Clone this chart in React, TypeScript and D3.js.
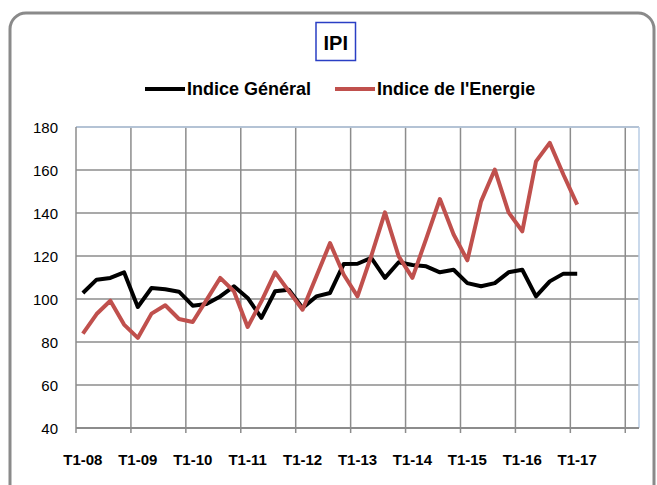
import * as d3 from "d3";

const width = 657;
const height = 485;
const marginLeft = 76;
const plotRight = 639;
const plotTop = 127;
const plotBottom = 428;

// quarters T1-08 .. T1-18 (41 slots, data runs to T1-17)
const years = ["08", "09", "10", "11", "12", "13", "14", "15", "16", "17", "18"];
const quarters = years.flatMap((y, i) =>
  i === years.length - 1 ? [`T1-${y}`] : [`T1-${y}`, `T2-${y}`, `T3-${y}`, `T4-${y}`]
);
const tickLabels = ["T1-08", "T1-09", "T1-10", "T1-11", "T1-12", "T1-13", "T1-14", "T1-15", "T1-16", "T1-17"];

const indiceGeneral = [
  102.8, 109, 109.8, 112.4, 96.3, 105.1, 104.5, 103.4, 96.9, 97.7,
  101.2, 105.9, 100.5, 91.2, 103.6, 104.3, 95.8, 101.2, 102.8, 116.3,
  116.4, 119.1, 109.8, 117.1, 115.8, 115.2, 112.4, 113.6, 107.4, 105.9,
  107.4, 112.4, 113.6, 101.2, 108.2, 111.8, 111.8,
];
const indiceEnergie = [
  83.9, 93, 99.2, 88.1, 81.9, 93.2, 97.1, 90.7, 89.3, 99.5,
  109.8, 103.6, 87, 98.9, 112.4, 103.6, 95, 110.5, 126, 111.3,
  101.2, 120, 140.3, 119.8, 109.8, 128, 146.5, 130, 118, 145.4,
  160.2, 140.3, 131.5, 164, 172.6, 157.8, 143.9,
];
const yTicks = [40, 60, 80, 100, 120, 140, 160, 180];

const series = [
  { name: "Indice Général", values: indiceGeneral, color: "#000000" },
  { name: "Indice de l'Energie", values: indiceEnergie, color: "#c0504d" },
];

const font = "'Liberation Sans', Arial, sans-serif";

export default function App() {
  const x = d3.scaleBand<string>().domain(quarters).range([marginLeft, plotRight]).padding(0);
  const y = d3.scaleLinear().domain([40, 180]).range([plotBottom, plotTop]);
  const bw = x.bandwidth();

  const line = d3
    .line<number>()
    .x((_, i) => (x(quarters[i]) as number) + bw / 2)
    .y((d) => y(d));

  const tickEdges = quarters.filter((_, i) => i % 4 === 0).map((q) => x(q) as number);

  return (
    <svg
      width={width}
      height={height}
      viewBox={`0 0 ${width} ${height}`}
      style={{ position: "absolute", left: 0, top: 0, background: "#fff" }}
    >
      <rect x={10} y={13} width={644} height={490} rx={16} fill="#fff" stroke="#8a8a8a" strokeWidth={3} />

      {/* title */}
      <rect x={316} y={22.5} width={39.5} height={38} fill="none" stroke="#2a3fc4" strokeWidth={1.5} />
      <text x={335.8} y={50} textAnchor="middle" fontFamily={font} fontWeight="bold" fontSize={20}>
        IPI
      </text>

      {/* legend */}
      <g fontFamily={font} fontWeight="bold" fontSize={18}>
        <line x1={145} x2={185} y1={89} y2={89} stroke={series[0].color} strokeWidth={4} />
        <text x={187} y={94.5}>{series[0].name}</text>
        <line x1={335} x2={375} y1={89} y2={89} stroke={series[1].color} strokeWidth={4} />
        <text x={377} y={94.5}>{series[1].name}</text>
      </g>

      {/* grid */}
      {yTicks.map((t) => (
        <line key={t} x1={marginLeft} x2={plotRight} y1={y(t)} y2={y(t)} stroke="#8c8c8c" strokeWidth={1.5} />
      ))}
      {tickEdges.slice(1).map((e) => (
        <line key={e} x1={e} x2={e} y1={plotTop} y2={plotBottom} stroke="#8c8c8c" strokeWidth={1.5} />
      ))}
      <line x1={marginLeft} x2={plotRight} y1={plotTop} y2={plotTop} stroke="#b9cde5" strokeWidth={1.5} />
      <line x1={plotRight} x2={plotRight} y1={plotTop} y2={plotBottom} stroke="#b9cde5" strokeWidth={1.5} />

      {/* axes */}
      <line x1={marginLeft} x2={marginLeft} y1={plotTop} y2={plotBottom} stroke="#8c8c8c" strokeWidth={1.5} />
      <line x1={marginLeft} x2={plotRight} y1={plotBottom} y2={plotBottom} stroke="#8c8c8c" strokeWidth={2} />
      {tickEdges.map((e) => (
        <line key={"t" + e} x1={e} x2={e} y1={plotBottom} y2={plotBottom + 5} stroke="#8c8c8c" strokeWidth={1.5} />
      ))}

      <g fontFamily={font} fontSize={15} textAnchor="end">
        {yTicks.map((t) => (
          <text key={t} x={58} y={y(t) + 5.5}>
            {t}
          </text>
        ))}
      </g>
      <g fontFamily={font} fontSize={15} fontWeight="bold" textAnchor="middle">
        {tickLabels.map((l) => (
          <text key={l} x={(x(l) as number) + bw / 2} y={465}>
            {l}
          </text>
        ))}
      </g>

      {/* series */}
      {series.map((s) => (
        <path
          key={s.name}
          d={line(s.values) as string}
          fill="none"
          stroke={s.color}
          strokeWidth={4}
          strokeLinejoin="round"
        />
      ))}
    </svg>
  );
}
